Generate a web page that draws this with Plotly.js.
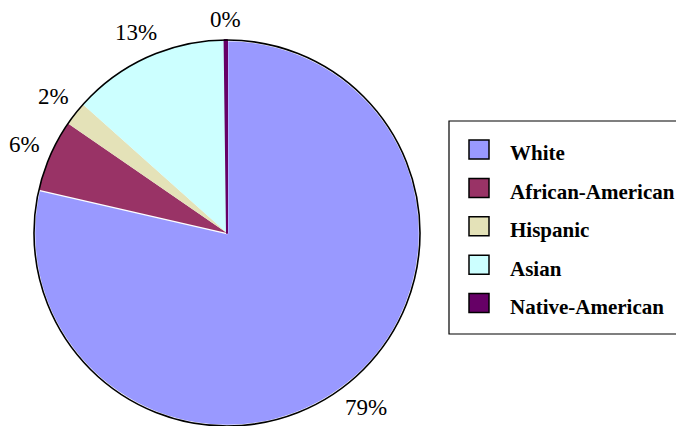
<!DOCTYPE html>
<html>
<head>
<meta charset="utf-8">
<script src="https://cdn.plot.ly/plotly-3.0.1.min.js"></script>
<style>html,body{margin:0;padding:0;background:#fff;}#chart{width:676px;height:426px;}</style>
</head>
<body>
<div id="chart"></div>
<script>
// Data
var labels = ["White", "African-American", "Hispanic", "Asian", "Native-American"];
var values = [78.6, 6.0, 2.0, 13.2, 0.2];
var colors = ["#9999FF", "#993366", "#E4E2B8", "#CCFFFF", "#660066"];

var W = 676, H = 426;
var FONT = "Liberation Serif";
// pie geometry (pixels)
var cx = 227, cy = 233, r = 193;
var px = function (x) { return x / W; };
var py = function (y) { return 1 - y / H; };

var trace = {
  type: "pie",
  labels: labels,
  values: values,
  sort: false,
  direction: "clockwise",
  rotation: 0,
  marker: {
    colors: colors,
    line: { width: [2.5, 0, 0, 0, 2], color: ["#FFFFFF", "#993366", "#E4E2B8", "#CCFFFF", "#660066"] }
  },
  textinfo: "none",
  automargin: false,
  domain: { x: [px(cx - r), px(cx + r)], y: [py(cy + r), py(cy - r)] },
  showlegend: false,
  hoverinfo: "label+percent"
};

var shapes = [
  { type: "circle", xref: "paper", yref: "paper", layer: "above",
    x0: px(cx - r), x1: px(cx + r), y0: py(cy + r), y1: py(cy - r),
    line: { color: "#000", width: 1.6 }, fillcolor: "rgba(0,0,0,0)" },
  // legend box
  { type: "rect", xref: "paper", yref: "paper", layer: "above",
    x0: px(449), x1: px(690), y0: py(334), y1: py(121),
    line: { color: "#000", width: 1.2 }, fillcolor: "rgba(0,0,0,0)" }
];
var annotations = [];

// percentage labels placed outside each slice at its mid-angle
var total = values.reduce(function (a, b) { return a + b; }, 0);
var cum = 0;
values.forEach(function (v, i) {
  var mid = (cum + v / 2) / total * 2 * Math.PI; // clockwise from 12 o'clock
  cum += v;
  var txt = Math.round(v / total * 100) + "%";
  var dx = Math.sin(mid), dy = -Math.cos(mid);
  var bw = txt.length * 11.5 + 4, bh = 17;
  var ext = Math.abs(dx) * bw / 2 + Math.abs(dy) * bh / 2;
  var d = r + 12 + ext;
  annotations.push({ xref: "paper", yref: "paper",
    x: px(cx + dx * d), y: py(cy + dy * d),
    xanchor: "center", yanchor: "middle", showarrow: false, text: txt,
    font: { family: FONT, size: 23, color: "#000" } });
});

labels.forEach(function (lab, i) {
  var yc = 149.5 + 38.4 * i;
  shapes.push({ type: "rect", xref: "paper", yref: "paper", layer: "above",
    x0: px(469), x1: px(489), y0: py(yc + 9.5), y1: py(yc - 9.5),
    fillcolor: colors[i], line: { color: "#000", width: 1.5 } });
  annotations.push({ xref: "paper", yref: "paper", x: px(508), y: py(yc + 4),
    xanchor: "left", yanchor: "middle", showarrow: false, text: "<b>" + lab + "</b>",
    font: { family: FONT, size: 21, color: "#000" } });
});

var layout = {
  width: W, height: H,
  margin: { l: 0, r: 0, t: 0, b: 0 },
  paper_bgcolor: "#fff",
  showlegend: false,
  shapes: shapes,
  annotations: annotations
};

Plotly.newPlot("chart", [trace], layout, { displayModeBar: false, staticPlot: true });
</script>
</body>
</html>
